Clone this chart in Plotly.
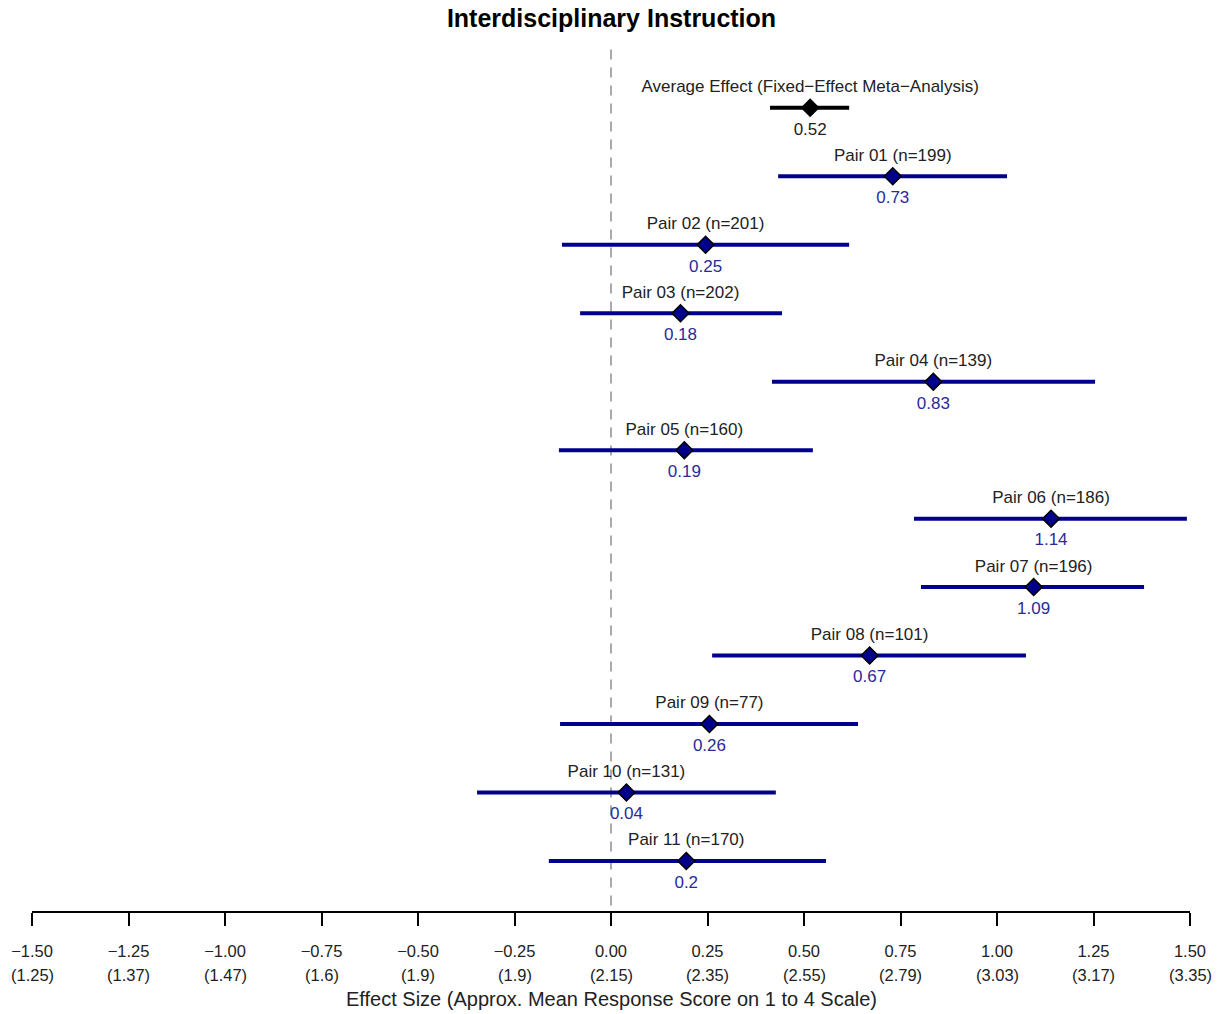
import plotly.graph_objects as go

labels = ["Average Effect (Fixed\u2212Effect Meta\u2212Analysis)",
          "Pair 01 (n=199)", "Pair 02 (n=201)", "Pair 03 (n=202)", "Pair 04 (n=139)",
          "Pair 05 (n=160)", "Pair 06 (n=186)", "Pair 07 (n=196)", "Pair 08 (n=101)",
          "Pair 09 (n=77)", "Pair 10 (n=131)", "Pair 11 (n=170)"]
estimates = [0.516, 0.73, 0.245, 0.18, 0.835, 0.19, 1.14, 1.095, 0.67, 0.255, 0.04, 0.195]
value_text = ["0.52", "0.73", "0.25", "0.18", "0.83", "0.19", "1.14", "1.09", "0.67", "0.26", "0.04", "0.2"]
ci_low = [0.412, 0.433, -0.127, -0.080, 0.417, -0.135, 0.785, 0.803, 0.262, -0.132, -0.347, -0.161]
ci_high = [0.617, 1.026, 0.617, 0.443, 1.254, 0.523, 1.492, 1.381, 1.075, 0.640, 0.427, 0.557]

tick_vals = [-1.5, -1.25, -1.0, -0.75, -0.5, -0.25, 0.0, 0.25, 0.5, 0.75, 1.0, 1.25, 1.5]
tick_top = ["\u22121.50", "\u22121.25", "\u22121.00", "\u22120.75", "\u22120.50", "\u22120.25",
            "0.00", "0.25", "0.50", "0.75", "1.00", "1.25", "1.50"]
tick_bottom = ["(1.25)", "(1.37)", "(1.47)", "(1.6)", "(1.9)", "(1.9)", "(2.15)",
               "(2.35)", "(2.55)", "(2.79)", "(3.03)", "(3.17)", "(3.35)"]

NAVY = "#00008B"
VALBLUE = "#2a2a9a"
FONT = "Liberation Sans, Arial, sans-serif"

rows = list(range(len(labels)))
fig = go.Figure()

# reference line at zero
fig.add_trace(go.Scatter(x=[0, 0], y=[-0.85, 11.73], mode="lines",
                         line=dict(color="#aaaaaa", width=2, dash="10px,8px"),
                         hoverinfo="skip", showlegend=False))

for i in rows:
    col = "black" if i == 0 else NAVY
    fig.add_trace(go.Scatter(x=[ci_low[i], ci_high[i]], y=[i, i], mode="lines",
                             line=dict(color=col, width=4), showlegend=False,
                             hoverinfo="skip"))

fig.add_trace(go.Scatter(
    x=estimates, y=rows, mode="markers",
    marker=dict(symbol="diamond", size=13,
                color=["black"] + [NAVY] * (len(rows) - 1),
                line=dict(color="black", width=1.5)),
    showlegend=False))

fig.add_trace(go.Scatter(
    x=estimates, y=[r - 0.29 for r in rows], mode="text", text=labels,
    textposition="middle center",
    textfont=dict(family=FONT, size=17, color="#222222"),
    showlegend=False, hoverinfo="skip"))

fig.add_trace(go.Scatter(
    x=estimates, y=[r + 0.33 for r in rows], mode="text", text=value_text,
    textposition="middle center",
    textfont=dict(family=FONT, size=17,
                  color=["#222222"] + [VALBLUE] * (len(rows) - 1)),
    showlegend=False, hoverinfo="skip"))

annotations = []
for v, t in zip(tick_vals, tick_bottom):
    annotations.append(dict(x=v, y=0, xref="x", yref="paper", text=t, showarrow=False,
                            yanchor="middle", yshift=-64,
                            font=dict(family=FONT, size=16.5, color="#222222")))
annotations.append(dict(x=0.5, y=0, xref="paper", yref="paper",
                        text="Effect Size (Approx. Mean Response Score on 1 to 4 Scale)",
                        showarrow=False, yanchor="middle", yshift=-88,
                        font=dict(family=FONT, size=20, color="#222222")))

fig.update_layout(
    width=1223, height=1014,
    margin=dict(l=32, r=33, t=40, b=103),
    plot_bgcolor="white", paper_bgcolor="white",
    title=dict(text="<b>Interdisciplinary Instruction</b>", x=0.5, xanchor="center",
               y=1 - 18 / 1014, yanchor="middle", yref="container",
               font=dict(family=FONT, size=25, color="black")),
    xaxis=dict(range=[-1.5, 1.5], tickvals=tick_vals, ticktext=tick_top,
               showgrid=False, zeroline=False, showline=True, linecolor="black",
               linewidth=2, ticks="outside", ticklen=13, tickwidth=2, tickcolor="black",
               tickfont=dict(family=FONT, size=16.5, color="#222222"),
               ticklabelstandoff=11),
    yaxis=dict(range=[11.73, -0.99], showgrid=False, zeroline=False,
               showticklabels=False, showline=False, ticks=""),
    annotations=annotations,
)

fig.write_html("out.html")
